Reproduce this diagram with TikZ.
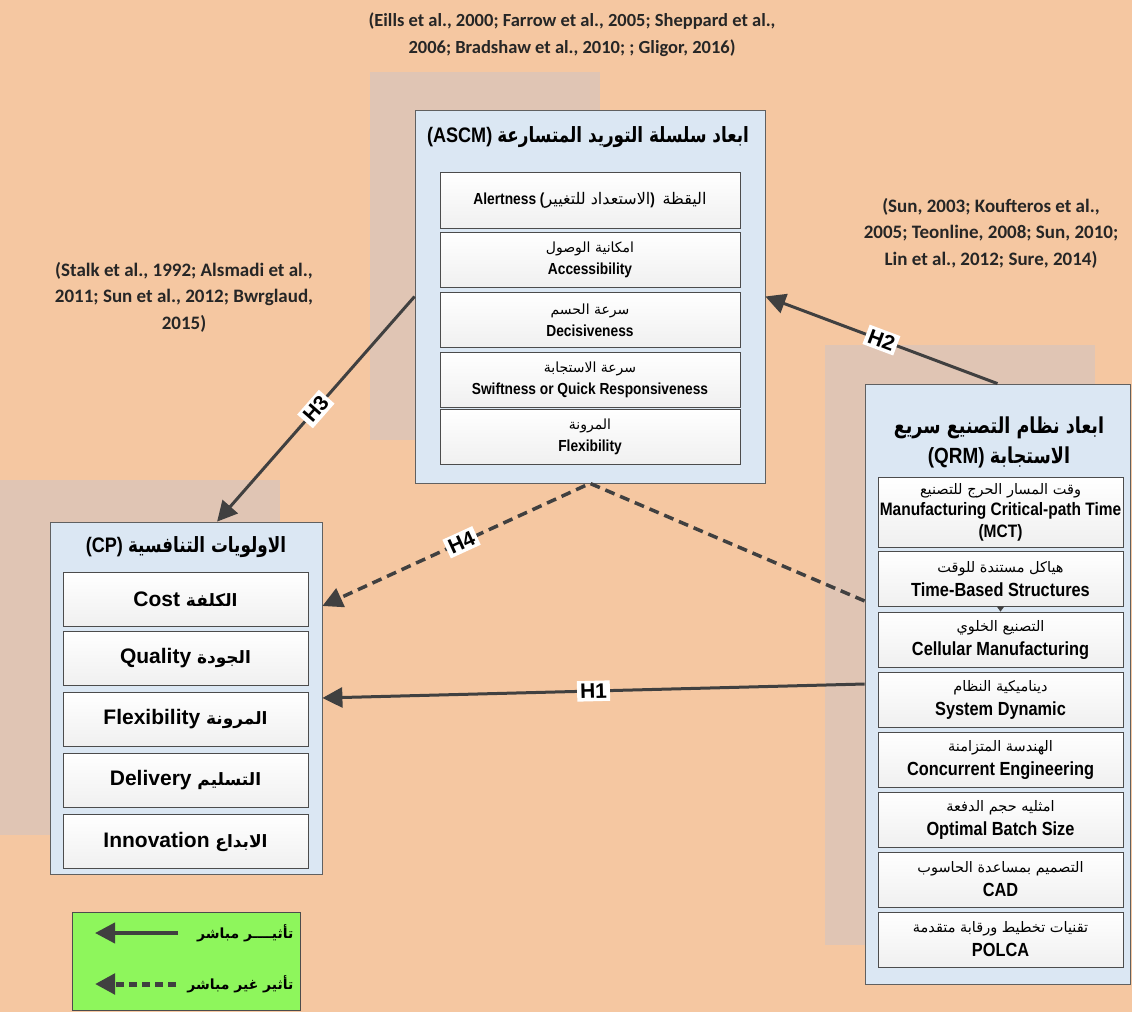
\documentclass[tikz,border=0pt]{standalone}
\usepackage{fontspec}
\setmainfont{Liberation Sans}
\newfontfamily\arabicfont[Script=Arabic]{DejaVu Sans}
\newfontfamily\arabicnarrow[Script=Arabic,FakeStretch=0.8]{DejaVu Sans}
\newfontfamily\citefont{Carlito}
\newfontfamily\boxfont[FakeStretch=0.86]{Liberation Sans}
\TeXXeTstate=1
\usetikzlibrary{arrows.meta}
\definecolor{bgpeach}{RGB}{245,199,161}
\definecolor{shadetan}{RGB}{224,197,180}
\definecolor{panelblue}{RGB}{219,231,243}
\definecolor{arrowgray}{RGB}{64,64,64}
\definecolor{legendgreen}{RGB}{142,246,92}
\newcommand{\artxt}[1]{{\arabicfont\mdseries\beginR #1\endR}}
\newcommand{\artitle}[1]{{\arabicfont\bfseries\beginR #1\endR}}
\newcommand{\arhead}[1]{{\arabicnarrow\bfseries\beginR #1\endR}}

\begin{document}
\begin{tikzpicture}[x=1pt, y=-1pt,
  every node/.style={font=\boxfont\bfseries\fontsize{16}{22}\selectfont},
  panel/.style={draw=gray!75!black, fill=panelblue, line width=0.8pt},
  item/.style={draw=gray!60!black, top color=white, bottom color=gray!12, line width=0.8pt, align=center, inner sep=0pt},
  head/.style={font=\boxfont\bfseries\fontsize{21}{30}\selectfont, align=center},
  link/.style={draw=arrowgray, line width=3pt, -{Triangle[length=20pt,width=20pt]}},
  dashlink/.style={link, dash pattern=on 10pt off 6pt},
  hyp/.style={fill=white, font=\bfseries\fontsize{21}{21}\selectfont, inner sep=3pt, sloped},
  cite/.style={font=\citefont\bfseries\fontsize{19}{26.5}\selectfont, align=center, text=black!85}]
  \useasboundingbox (0,0) rectangle (1132,1012);
  \fill[bgpeach] (0,0) rectangle (1132,1012);
  % Shadow blocks behind the panels
  \fill[shadetan] (370,72) rectangle (600,440);
  \fill[shadetan] (0,480) rectangle (280,835);
  \fill[shadetan] (825,345) rectangle (1095,945);
  % Citations
  \node[cite, font=\citefont\bfseries\fontsize{18.5}{27}\selectfont] (citeascm) at (572,35) {(Eills et al., 2000; Farrow et al., 2005; Sheppard et al.,\\2006; Bradshaw et al., 2010; ; Gligor, 2016)};
  \node[cite] (citecp) at (184,297) {(Stalk et al., 1992; Alsmadi et al.,\\2011; Sun et al., 2012; Bwrglaud,\\2015)};
  \node[cite] (citeqrm) at (991,233) {(Sun, 2003; Koufteros et al.,\\2005; Teonline, 2008; Sun, 2010;\\Lin et al., 2012; Sure, 2014)};
  % ASCM panel
  \node[panel, minimum width=350pt, minimum height=373pt] (ascm) at (590,296.5) {};
  \node[head] (ascmtitle) at (588,137) {(ASCM)\ \arhead{ابعاد سلسلة التوريد المتسارعة}};
  \node[item, minimum width=300pt, minimum height=56pt] (alert) at (590,200) {Alertness (\artxt{الاستعداد للتغيير})\ \ \artxt{اليقظة}};
  \foreach \y/\nm/\arab/\eng in {260/access/امكانية الوصول/Accessibility, 320/decis/سرعة الحسم/Decisiveness, 380/swift/سرعة الاستجابة/Swiftness or Quick Responsiveness, 437/flexa/المرونة/Flexibility} {
    \node[item, minimum width=300pt, minimum height=55pt] (\nm) at (590,\y) {\artxt{\fontsize{14}{16}\selectfont\arab}\\\eng};
  }
  % CP panel
  \node[panel, minimum width=272pt, minimum height=352pt] (cp) at (186,698) {};
  \node[head] (cptitle) at (186,547) {(CP)\ \arhead{الاولويات التنافسية}};
  \foreach \y/\nm/\arab/\eng in {599.5/cost/الكلفة/Cost, 658.5/quality/الجودة/Quality, 719.5/flexc/المرونة/Flexibility, 780.5/delivery/التسليم/Delivery, 841.5/innov/الابداع/Innovation} {
    \node[item, minimum width=245pt, minimum height=54pt, font=\bfseries\fontsize{21}{24}\selectfont] (\nm) at (185.5,\y) {\eng\ {\fontsize{17}{18}\selectfont\artitle{\arab}}};
  }
  % QRM panel
  \node[panel, minimum width=265pt, minimum height=600pt] (qrm) at (997.5,684) {};
  \node[head, font=\boxfont\bfseries\fontsize{22}{30}\selectfont] (qrmtitle) at (999,442) {\arhead{ابعاد نظام التصنيع سريع}\\(QRM)\ \arhead{الاستجابة}};
  \node[item, minimum width=245pt, minimum height=70pt, font=\boxfont\bfseries\fontsize{18}{21.5}\selectfont] (mct) at (1000.5,512) {\artxt{\fontsize{14.5}{15}\selectfont وقت المسار الحرج للتصنيع}\\Manufacturing Critical-path Time\\(MCT)};
  \foreach \y/\nm/\arab/\eng in {579/tbs/هياكل مستندة للوقت/Time-Based Structures, 639.5/cell/التصنيع الخلوي/Cellular Manufacturing, 699.5/sysdyn/ديناميكية النظام/System Dynamic, 759.5/conc/الهندسة المتزامنة/Concurrent Engineering, 819.5/batch/امثليه حجم الدفعة/Optimal Batch Size, 879.5/cad/التصميم بمساعدة الحاسوب/CAD, 939.5/polca/تقنيات تخطيط ورقابة متقدمة/POLCA} {
    \node[item, minimum width=245pt, minimum height=55pt, font=\boxfont\bfseries\fontsize{19}{24}\selectfont] (\nm) at (1000.5,\y) {\artxt{\fontsize{14.5}{15}\selectfont\arab}\\\eng};
  }
  \draw[arrowgray, line width=0.6pt, -{Triangle[length=5pt,width=7pt]}] (tbs.south) -- (cell.north);
  % Hypothesis links
  \draw[link] (qrm.north) -- (ascm.east) node[hyp, pos=0.5] {H2};
  \draw[link] (ascm.west) -- (cp.80) node[hyp, pos=0.5] {H3};
  \draw[link] (qrm.west) -- (cp.east) node[hyp, pos=0.5] {H1};
  \draw[dashlink, line width=3.5pt] (qrm.148) -- (ascm.south) -- (cp.34) node[hyp, pos=0.48] {H4};
  % Legend
  \node[fill=legendgreen, draw=gray!60!black, line width=0.8pt, minimum width=228pt, minimum height=98pt] (legend) at (186,961) {};
  \node[anchor=east, font=\fontsize{14}{18}\selectfont] (direct) at (297,933) {\artitle{تأثيــــر مباشر}};
  \node[anchor=east, font=\fontsize{14}{18}\selectfont] (indirect) at (297,984) {\artitle{تأثير غير مباشر}};
  \coordinate (dtail) at (178,933);
  \coordinate (dtip) at (95,933);
  \coordinate (itail) at (176,984);
  \coordinate (itip) at (95,984);
  \draw[link, line width=4pt, -{Triangle[length=20pt,width=20pt]}] (dtail) -- (dtip);
  \draw[dashlink, line width=5pt, dash pattern=on 8pt off 5pt, -{Triangle[length=20pt,width=20pt]}] (itail) -- (itip);
\end{tikzpicture}
\end{document}
